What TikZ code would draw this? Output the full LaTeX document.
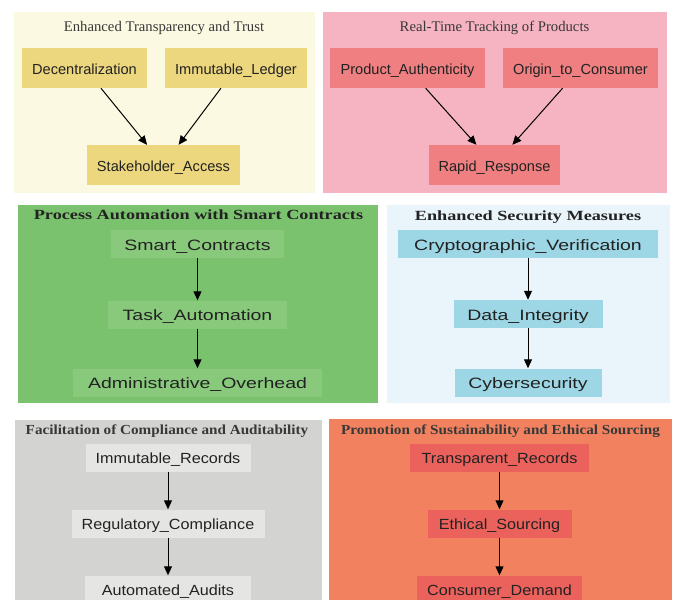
\documentclass[tikz,border=0pt]{standalone}
\usepackage{fontspec}
\setmainfont{Liberation Serif}
\setsansfont{Liberation Sans}
\usetikzlibrary{arrows.meta}
\definecolor{bgA}{HTML}{FCF9E2}
\definecolor{ndA}{HTML}{ECD67E}
\definecolor{bgB}{HTML}{F6B3C1}
\definecolor{ndB}{HTML}{EF7F80}
\definecolor{bgC}{HTML}{7BC26F}
\definecolor{ndC}{HTML}{88C97B}
\definecolor{bgD}{HTML}{EAF4FB}
\definecolor{ndD}{HTML}{9DD6E4}
\definecolor{bgE}{HTML}{D3D3D2}
\definecolor{ndE}{HTML}{E5E5E3}
\definecolor{bgF}{HTML}{F2825F}
\definecolor{ndF}{HTML}{EB615C}
\definecolor{txt}{HTML}{222222}
\definecolor{ttl}{HTML}{383838}
\newcommand\midtxt[1]{\scalebox{1.3}[1]{#1}}
\newcommand\bottxt[1]{\scalebox{1.1}[1]{#1}}
\tikzset{
  topbox/.style={inner sep=0pt, minimum height=40pt, text height=12.5pt, text depth=0pt, text=txt, font=\sffamily\fontsize{14.6}{16}\selectfont},
  midbox/.style={inner sep=0pt, minimum height=28pt, text height=12.5pt, text depth=0pt, text=txt, font=\sffamily\fontsize{15}{16}\selectfont},
  botbox/.style={inner sep=0pt, minimum height=28pt, text height=12.5pt, text depth=0pt, text=txt, font=\sffamily\fontsize{14.7}{16}\selectfont},
  toptitle/.style={anchor=base, inner sep=0pt, text=ttl, font=\rmfamily\fontsize{14.7}{16}\selectfont},
  midtitle/.style={anchor=base, inner sep=0pt, text=txt, font=\rmfamily\bfseries\fontsize{14}{16}\selectfont},
  bottitle/.style={anchor=base, inner sep=0pt, text=ttl, font=\rmfamily\bfseries\fontsize{13.8}{16}\selectfont},
  arr/.style={draw=black, line width=1pt, -{Triangle[length=9pt,width=8pt]}},
}
\begin{document}
\begin{tikzpicture}[x=1pt,y=-1pt]
\useasboundingbox (0,0) rectangle (676,599);
\clip (0,0) rectangle (676,599);
\fill[white] (0,0) rectangle (676,599);
% panels
\fill[bgA] (14,12) rectangle (315,193);
\fill[bgB] (323,12) rectangle (667,193);
\fill[bgC] (18,205) rectangle (378,403);
\fill[bgD] (387,205) rectangle (670,403);
\fill[bgE] (15,420) rectangle (322,620);
\fill[bgF] (329,419) rectangle (672,620);
% titles
\node[toptitle] (tA) at (164,32) {Enhanced Transparency and Trust};
\node[toptitle] (tB) at (494.5,32) {Real-Time Tracking of Products};
\node[midtitle] (tC) at (198.5,219.5) {\midtxt{Process Automation with Smart Contracts}};
\node[midtitle] (tD) at (528,220.5) {\midtxt{Enhanced Security Measures}};
\node[bottitle] (tE) at (167,434) {\bottxt{Facilitation of Compliance and Auditability}};
\node[bottitle] (tF) at (500.5,434) {\bottxt{Promotion of Sustainability and Ethical Sourcing}};
% panel 1
\node[topbox, fill=ndA, minimum width=125pt] (dec) at (84.5,68) {Decentralization};
\node[topbox, fill=ndA, minimum width=142pt] (iml) at (236,68) {Immutable\_Ledger};
\node[topbox, fill=ndA, minimum width=153pt] (stk) at (163.5,165) {Stakeholder\_Access};
\draw[arr] (dec) -- (stk);
\draw[arr] (iml) -- (stk);
% panel 2
\node[topbox, fill=ndB, minimum width=155pt] (pa) at (407.5,68) {Product\_Authenticity};
\node[topbox, fill=ndB, minimum width=155pt] (oc) at (580.5,68) {Origin\_to\_Consumer};
\node[topbox, fill=ndB, minimum width=131pt] (rr) at (494.5,165) {Rapid\_Response};
\draw[arr] (pa) -- (rr);
\draw[arr] (oc) -- (rr);
% panel 3
\node[midbox, fill=ndC, minimum width=173pt] (sc) at (197.5,244) {\midtxt{Smart\_Contracts}};
\node[midbox, fill=ndC, minimum width=179pt] (ta) at (197.5,314.5) {\midtxt{Task\_Automation}};
\node[midbox, fill=ndC, minimum width=249pt] (ao) at (197.5,382.5) {\midtxt{Administrative\_Overhead}};
\draw[arr] (sc) -- (ta);
\draw[arr] (ta) -- (ao);
% panel 4
\node[midbox, fill=ndD, minimum width=260pt] (cv) at (528,244) {\midtxt{Cryptographic\_Verification}};
\node[midbox, fill=ndD, minimum width=149pt] (di) at (528,314) {\midtxt{Data\_Integrity}};
\node[midbox, fill=ndD, minimum width=147pt] (cy) at (528,382.5) {\midtxt{Cybersecurity}};
\draw[arr] (cv) -- (di);
\draw[arr] (di) -- (cy);
% panel 5
\node[botbox, fill=ndE, minimum width=165pt] (ir) at (168,457.5) {\bottxt{Immutable\_Records}};
\node[botbox, fill=ndE, minimum width=193pt] (rc) at (168,523.5) {\bottxt{Regulatory\_Compliance}};
\node[botbox, fill=ndE, minimum width=166pt] (aa) at (168,589.5) {\bottxt{Automated\_Audits}};
\draw[arr] (ir) -- (rc);
\draw[arr] (rc) -- (aa);
% panel 6
\node[botbox, fill=ndF, minimum width=179pt] (tr) at (499.5,457.5) {\bottxt{Transparent\_Records}};
\node[botbox, fill=ndF, minimum width=144pt] (es) at (499.5,523.5) {\bottxt{Ethical\_Sourcing}};
\node[botbox, fill=ndF, minimum width=165pt] (cd) at (499.5,589.5) {\bottxt{Consumer\_Demand}};
\draw[arr] (tr) -- (es);
\draw[arr] (es) -- (cd);
\end{tikzpicture}
\end{document}
